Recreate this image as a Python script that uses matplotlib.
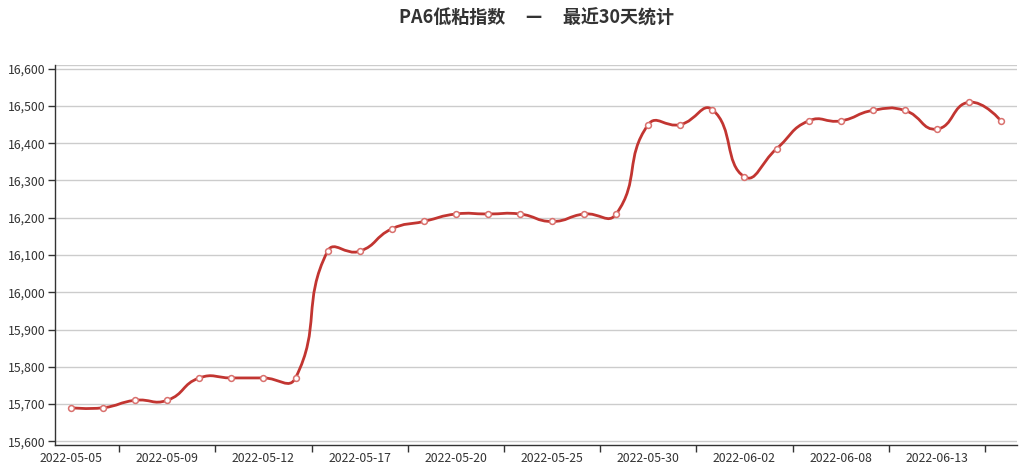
import matplotlib
matplotlib.use("Agg")
import matplotlib.pyplot as plt
from matplotlib.path import Path
from matplotlib.patches import PathPatch
from matplotlib.ticker import FuncFormatter, FixedLocator
import numpy as np

plt.rcParams["font.family"] = ["Noto Sans CJK SC", "DejaVu Sans"]

TITLE = "PA6低粘指数     —     最近30天统计"

dates = [
    "2022-05-05", "2022-05-06", "2022-05-07", "2022-05-09", "2022-05-10",
    "2022-05-11", "2022-05-12", "2022-05-13", "2022-05-16", "2022-05-17",
    "2022-05-18", "2022-05-19", "2022-05-20", "2022-05-23", "2022-05-24",
    "2022-05-25", "2022-05-26", "2022-05-27", "2022-05-30", "2022-05-31",
    "2022-06-01", "2022-06-02", "2022-06-06", "2022-06-07", "2022-06-08",
    "2022-06-09", "2022-06-10", "2022-06-13", "2022-06-14", "2022-06-15",
]
values = [
    15690, 15690, 15710, 15710, 15770, 15770, 15770, 15770, 16110, 16110,
    16170, 16190, 16210, 16210, 16210, 16190, 16210, 16210, 16450, 16450,
    16490, 16310, 16385, 16460, 16460, 16488, 16488, 16438, 16510, 16460,
]
y_ticks = [15600, 15700, 15800, 15900, 16000, 16100, 16200, 16300, 16400, 16500, 16600]

LINE = "#c23531"
W, H, DPI = 1021, 473, 100

fig = plt.figure(figsize=(W / DPI, H / DPI), dpi=DPI)
ax = fig.add_axes([55 / W, 1 - 445 / H, (1017 - 55) / W, (445 - 65) / H])

n = len(values)
xs = np.arange(n)
ax.set_xlim(-0.5, n - 0.5)
ax.set_ylim(min(values) - 100, max(values) + 100)

# echarts-like smooth line: bezier control points computed in pixel space
pts = ax.transData.transform(np.column_stack([xs, values]))
smooth = 0.5
verts = [tuple(pts[0])]
codes = [Path.MOVETO]
cps_out, cps_in = [], []
for i in range(n):
    x, y = pts[i]
    if i == 0 or i == n - 1:
        cps_in.append((x, y))
        cps_out.append((x, y))
        continue
    px, py = pts[i - 1]
    nx, ny = pts[i + 1]
    vx, vy = nx - px, ny - py
    l0 = np.hypot(x - px, y - py)
    l1 = np.hypot(nx - x, ny - y)
    r = l1 / (l0 + l1)
    cps_in.append((x - vx * smooth * (1 - r), y - vy * smooth * (1 - r)))
    cps_out.append((x + vx * smooth * r, y + vy * smooth * r))
for i in range(n - 1):
    verts += [cps_out[i], cps_in[i + 1], tuple(pts[i + 1])]
    codes += [Path.CURVE4] * 3
inv = ax.transData.inverted()
verts = inv.transform(np.array(verts))
ax.add_patch(PathPatch(Path(verts, codes), facecolor="none", edgecolor=LINE,
                       linewidth=2, zorder=3, capstyle="round", joinstyle="round"))
ax.plot(xs, values, linestyle="none", marker="o", markersize=4.2,
        markerfacecolor="white", markeredgecolor="#d9706d", markeredgewidth=1.1, zorder=4)

# grid
for t in y_ticks:
    ax.axhline(t, color="#cccccc", linewidth=1, zorder=1)
ax.axhline(max(values) + 100, color="#cccccc", linewidth=1, zorder=1)

for side in ["top", "right"]:
    ax.spines[side].set_visible(False)
for side in ["left", "bottom"]:
    ax.spines[side].set_color("#333333")
    ax.spines[side].set_linewidth(1)

ax.yaxis.set_major_locator(FixedLocator(y_ticks))
ax.yaxis.set_major_formatter(FuncFormatter(lambda v, p: f"{int(v):,}"))
ax.tick_params(axis="y", direction="out", length=5, width=1, color="#333333",
               labelcolor="#333333", labelsize=8.8, pad=2)

label_idx = list(range(0, n, 3))
ax.set_xticks(label_idx)
ax.set_xticklabels([dates[i] for i in label_idx])
ax.set_xticks([i + 1.5 for i in range(0, n - 1, 3)], minor=True)
ax.tick_params(axis="x", which="major", length=0, labelcolor="#333333",
               labelsize=8.8, pad=5)
ax.tick_params(axis="x", which="minor", direction="out", length=5, width=1,
               color="#333333")

fig.text((55 + 1017) / 2 / W, 1 - 18 / H, TITLE, ha="center", va="center",
         fontsize=13, fontweight="bold", color="#333333")

fig.savefig("out.png", dpi=DPI)
